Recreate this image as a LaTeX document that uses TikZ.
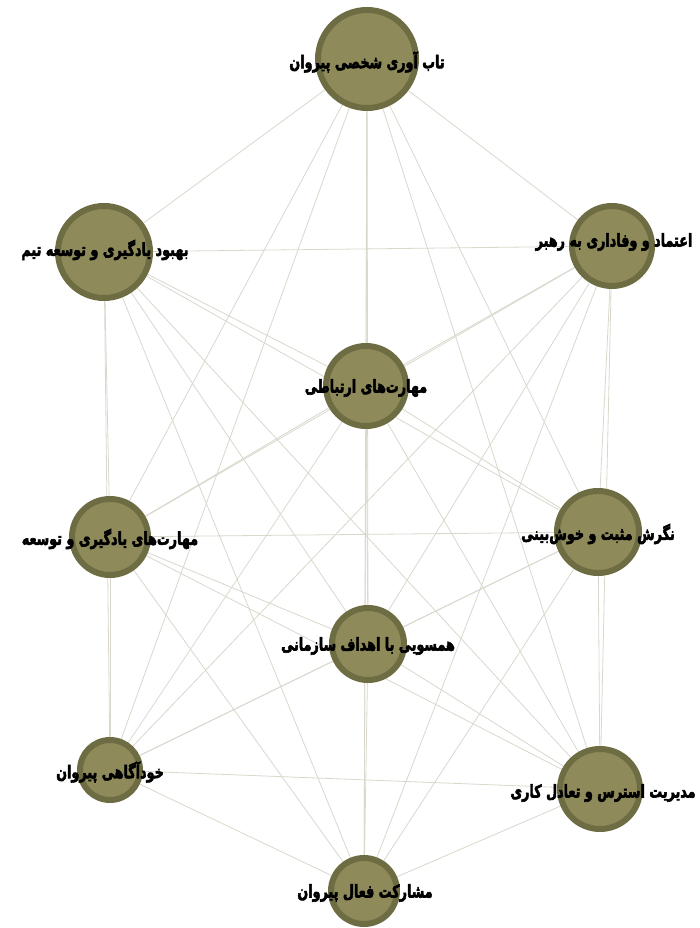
\documentclass[tikz,border=0pt]{standalone}
\usepackage{fontspec}
\usepackage{graphicx}
\usepackage{tikz}
\usetikzlibrary{backgrounds}
\TeXXeTstate=1
\newfontfamily\farsi[Script=Arabic, FakeBold=3.5]{DejaVu Sans Bold}
\newcommand{\rtltag}[1]{\scalebox{1.02}[1.4]{\beginR #1\endR}}

\definecolor{nodefill}{RGB}{142,138,90}
\definecolor{nodering}{RGB}{110,108,66}
\definecolor{linkgray}{RGB}{218,216,204}

\begin{document}
\begin{tikzpicture}[
    x=1pt, y=-1pt,
    factor/.style={
        circle, draw=nodering, fill=nodefill, line width=6pt,
        minimum size=#1, inner sep=0pt
    },
    tag/.style={
        font=\farsi\fontsize{12.5}{14}\selectfont, text=black, inner sep=0pt
    },
    link/.style={draw=linkgray, line width=0.8pt}
]

% Frame
\path[use as bounding box] (0,0) rectangle (700,928);

% Factors
\node[factor=98pt] (tabavari) at (367, 59) {};
\node[factor=92pt] (behbud) at (104, 252) {};
\node[factor=80pt] (etemad) at (612, 246) {};
\node[factor=80pt] (ertebati) at (366, 386) {};
\node[factor=76pt] (yadgiri) at (110, 537) {};
\node[factor=82pt] (negaresh) at (598, 532) {};
\node[factor=72pt] (hamsuyi) at (368, 644) {};
\node[factor=60pt] (khodagahi) at (110, 770) {};
\node[factor=80pt] (modiriat) at (600, 789) {};
\node[factor=66pt] (mosharekat) at (364, 891) {};

% Labels
\node[tag] (tabavari-t) at (367, 62) {\rtltag{تاب آوری شخصی پیروان}};
\node[tag] (behbud-t) at (105, 250) {\rtltag{بهبود یادگیری و توسعه تیم}};
\node[tag] (etemad-t) at (614, 242) {\rtltag{اعتماد و وفاداری به رهبر}};
\node[tag] (ertebati-t) at (366, 388) {\rtltag{مهارت‌های ارتباطی}};
\node[tag] (yadgiri-t) at (110, 539) {\rtltag{مهارت‌های یادگیری و توسعه}};
\node[tag] (negaresh-t) at (598, 534) {\rtltag{نگرش مثبت و خوش‌بینی}};
\node[tag] (hamsuyi-t) at (368, 646) {\rtltag{همسویی با اهداف سازمانی}};
\node[tag] (khodagahi-t) at (110, 772) {\rtltag{خودآگاهی پیروان}};
\node[tag] (modiriat-t) at (603, 793) {\rtltag{مدیریت استرس و تعادل کاری}};
\node[tag] (mosharekat-t) at (365, 893) {\rtltag{مشارکت فعال پیروان}};

% Links (every pair)
\begin{scope}[on background layer]
\fill[white] (0,0) rectangle (700,928);
\foreach \u [count=\i] in {tabavari,behbud,etemad,ertebati,yadgiri,negaresh,hamsuyi,khodagahi,modiriat,mosharekat}
  \foreach \v [count=\j] in {tabavari,behbud,etemad,ertebati,yadgiri,negaresh,hamsuyi,khodagahi,modiriat,mosharekat}
    {\ifnum\i<\j \draw[link] (\u) -- (\v); \fi}
\end{scope}

\end{tikzpicture}
\end{document}
